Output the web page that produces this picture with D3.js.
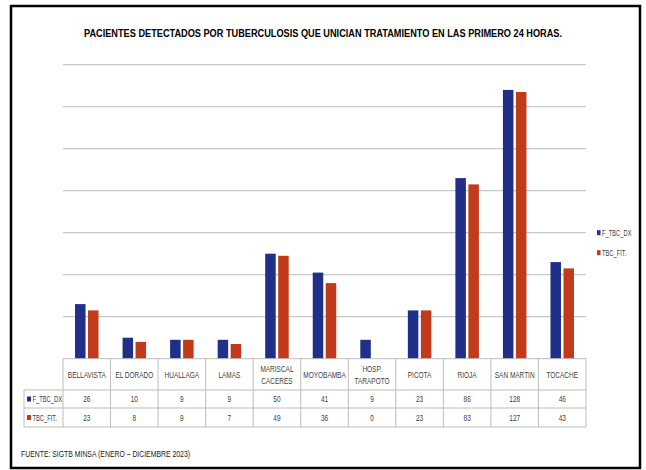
<!DOCTYPE html>
<html lang="es">
<head>
<meta charset="UTF-8">
<title>Pacientes TBC</title>
<style>
  body { margin:0; background:#fff; overflow:hidden; }
  svg { display:block; }
  text { font-family:"Liberation Sans", Arial, sans-serif; }
</style>
</head>
<body>
<svg id="chart" width="646" height="470"></svg>
<script src="https://d3js.org/d3.v7.min.js"></script>
<script>
  const categories = [["BELLAVISTA"], ["EL DORADO"], ["HUALLAGA"], ["LAMAS"], ["MARISCAL", "CACERES"],
    ["MOYOBAMBA"], ["HOSP.", "TARAPOTO"], ["PICOTA"], ["RIOJA"], ["SAN MARTIN"], ["TOCACHE"]];
  const seriesNames = ["F_TBC_DX", "TBC_FIT."];
  const dxValues = [26, 10, 9, 9, 50, 41, 9, 23, 86, 128, 46];
  const fitValues = [23, 8, 9, 7, 49, 36, 0, 23, 83, 127, 43];
  const yTicks = [0, 20, 40, 60, 80, 100, 120, 140];
  const colors = ["#1f2f8a", "#c23a1c"];

  const svg = d3.select("#chart");
  const plotL = 63, plotR = 586, plotT = 64.7, base = 358.7;
  const rowH = [31.3, 18, 19];

  // condensed look: scale the glyphs horizontally
  function narrow(g, x0, y0, str, size, anchor, sx) {
    return g.append("text").attr("transform", `translate(${x0},${y0}) scale(${sx || 0.72},1)`)
      .attr("font-size", size).attr("text-anchor", anchor || "start").attr("fill", "#404040").text(str);
  }

  // outer frame
  svg.append("rect").attr("x", 11).attr("y", 6).attr("width", 629).attr("height", 462)
    .attr("fill", "#fff").attr("stroke", "#000").attr("stroke-width", 2.5);

  svg.append("text").attr("x", 84).attr("y", 36.5)
    .attr("font-weight", "bold").attr("font-size", 10).attr("fill", "#000")
    .attr("textLength", 478).attr("lengthAdjust", "spacingAndGlyphs")
    .text("PACIENTES DETECTADOS POR TUBERCULOSIS QUE UNICIAN TRATAMIENTO EN LAS PRIMERO 24 HORAS.");

  const keys = categories.map(c => c.join(" "));
  const x = d3.scaleBand().domain(keys).range([plotL, plotR]);
  const y = d3.scaleLinear().domain([0, 140]).range([base, plotT]);

  // gridlines
  svg.append("g").selectAll("line").data(yTicks.slice(1)).join("line")
    .attr("x1", plotL).attr("x2", plotR).attr("y1", d => y(d)).attr("y2", d => y(d))
    .attr("stroke", "#c8c8c8").attr("stroke-width", 1.2);

  // bars
  const bw = 10.5, gap = 2.5;
  [dxValues, fitValues].forEach((vals, s) => {
    svg.append("g").selectAll("rect").data(vals).join("rect")
      .attr("x", (d, i) => x(keys[i]) + x.bandwidth() / 2 + (s === 0 ? -bw - gap / 2 : gap / 2))
      .attr("y", d => y(d)).attr("width", bw).attr("height", d => base - y(d))
      .attr("fill", colors[s]);
  });

  // data table
  const tg = svg.append("g").attr("stroke", "#bdbdbd").attr("stroke-width", 1);
  const r1 = base + rowH[0], r2 = r1 + rowH[1], r3 = r2 + rowH[2];
  tg.append("line").attr("x1", plotL).attr("x2", plotR).attr("y1", base).attr("y2", base);
  [r1, r2, r3].forEach(yy => tg.append("line").attr("x1", 24).attr("x2", plotR).attr("y1", yy).attr("y2", yy));
  keys.concat(["end"]).forEach((k, i) => {
    const xx = plotL + i * x.bandwidth();
    tg.append("line").attr("x1", xx).attr("x2", xx).attr("y1", base).attr("y2", r3);
  });
  tg.append("line").attr("x1", 24).attr("x2", 24).attr("y1", r1).attr("y2", r3);

  const tt = svg.append("g");
  categories.forEach((c, i) => {
    const cx = x(keys[i]) + x.bandwidth() / 2;
    c.forEach((line, j) => narrow(tt, cx, base + rowH[0] / 2 + 3.2 - (c.length - 1) * 6 + j * 12, line, 9, "middle"));
    narrow(tt, cx, r1 + rowH[1] / 2 + 3.2, dxValues[i], 9, "middle");
    narrow(tt, cx, r2 + rowH[2] / 2 + 3.2, fitValues[i], 9, "middle");
  });
  [r1 + rowH[1] / 2, r2 + rowH[2] / 2].forEach((cy, s) => {
    svg.append("rect").attr("x", 27).attr("y", cy - 2.5).attr("width", 4).attr("height", 5).attr("fill", colors[s]);
    narrow(svg, 32.5, cy + 3, seriesNames[s], 8.5, "start", 0.68);
  });

  // legend
  [232.7, 252.7].forEach((cy, s) => {
    svg.append("rect").attr("x", 597).attr("y", cy - 2.5).attr("width", 3.5).attr("height", 5).attr("fill", colors[s]);
    narrow(svg, 602, cy + 3, seriesNames[s], 8.5, "start", 0.68);
  });

  svg.append("text").attr("x", 21).attr("y", 457).attr("font-size", 9.5).attr("fill", "#222")
    .attr("textLength", 169).attr("lengthAdjust", "spacingAndGlyphs")
    .text("FUENTE: SIGTB MINSA (ENERO \u2013 DICIEMBRE 2023)");
</script>
</body>
</html>
